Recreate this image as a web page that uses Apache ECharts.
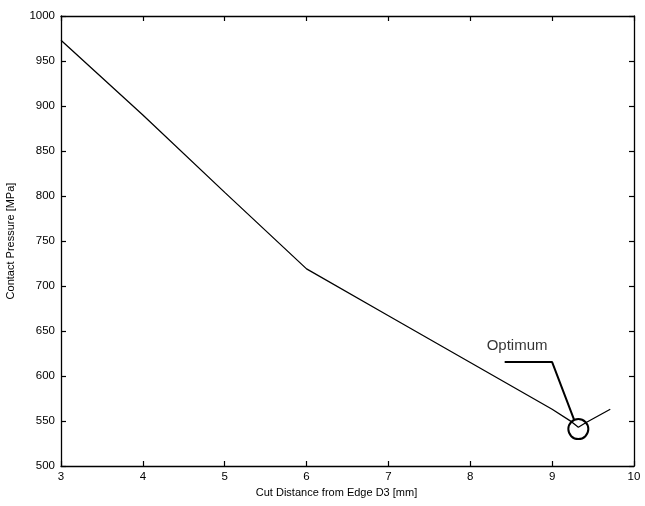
<!DOCTYPE html>
<html>
<head>
<meta charset="utf-8">
<script src="https://cdn.jsdelivr.net/npm/echarts@6/dist/echarts.min.js"></script>
<style>html,body{margin:0;padding:0;background:#fff;}#c{width:645px;height:506px;}</style>
</head>
<body>
<div id="c"></div>
<script>
// Data
var cutDistance = [3, 4, 5, 6, 7, 8, 9, 9.24, 9.32, 9.41, 9.71];
var contactPressure = [973, 890, 804, 719, 667, 615, 563, 549, 543, 548, 563];
var optimum = [9.32, 541];
var leaderX = [8.42, 9.0, 9.27];
var leaderY = [615.5, 615.5, 551];
var optimumLabelPos = [8.2, 633];
var xTicks = [3, 4, 5, 6, 7, 8, 9, 10];
var yTicks = [500, 550, 600, 650, 700, 750, 800, 850, 900, 950, 1000];

var font = 'Liberation Sans, Arial, Helvetica, sans-serif';
function pairs(xs, ys) { return xs.map(function (x, i) { return [x, ys[i]]; }); }
function plain(v) { return String(v); }

var chart = echarts.init(document.getElementById('c'), null, { renderer: 'canvas' });
var axisLine = { show: true, onZero: false, lineStyle: { color: '#000', width: 1.3 } };
var tick = { show: true, inside: true, length: 5, lineStyle: { color: '#000', width: 1.2 } };
var xCommon = { type: 'value', min: xTicks[0], max: xTicks[xTicks.length - 1], interval: 1,
  axisLine: axisLine, axisTick: tick, splitLine: { show: false } };
var yCommon = { type: 'value', min: yTicks[0], max: yTicks[yTicks.length - 1], interval: 50,
  axisLine: axisLine, axisTick: tick, splitLine: { show: false } };

chart.setOption({
  animation: false,
  backgroundColor: '#fff',
  grid: { left: 61, right: 11, top: 16, bottom: 40, containLabel: false, outerBoundsMode: 'none' },
  xAxis: [
    Object.assign({}, xCommon, {
      position: 'bottom',
      axisLabel: { color: '#000', fontFamily: font, fontSize: 11.5, margin: 5, formatter: plain },
      name: 'Cut Distance from Edge D3 [mm]', nameLocation: 'middle', nameGap: 20,
      nameTextStyle: { color: '#000', fontFamily: font, fontSize: 11, padding: [0, 22, 0, 0] }
    }),
    Object.assign({}, xCommon, { position: 'top', axisLabel: { show: false } })
  ],
  yAxis: [
    Object.assign({}, yCommon, {
      position: 'left',
      axisLabel: { color: '#000', fontFamily: font, fontSize: 11.5, margin: 6, formatter: plain },
      name: 'Contact Pressure [MPa]', nameLocation: 'middle', nameGap: 45, nameRotate: 90,
      nameTextStyle: { color: '#000', fontFamily: font, fontSize: 11 }
    }),
    Object.assign({}, yCommon, { position: 'right', axisLabel: { show: false } })
  ],
  series: [
    {
      type: 'line', data: pairs(cutDistance, contactPressure), showSymbol: false,
      lineStyle: { color: '#000', width: 1.3 }, z: 3
    },
    {
      type: 'line', data: pairs(leaderX, leaderY), showSymbol: false,
      lineStyle: { color: '#000', width: 2 }, z: 3
    },
    {
      type: 'scatter', data: [optimum], symbol: 'circle', symbolSize: 20,
      itemStyle: { color: 'transparent', borderColor: '#000', borderWidth: 2, opacity: 1 }, z: 4
    },
    {
      type: 'scatter', data: [optimumLabelPos], symbolSize: 0,
      label: { show: true, position: 'right', distance: 0, formatter: 'Optimum',
        color: '#000', fontFamily: font, fontSize: 15 }
    }
  ]
});
</script>
</body>
</html>
